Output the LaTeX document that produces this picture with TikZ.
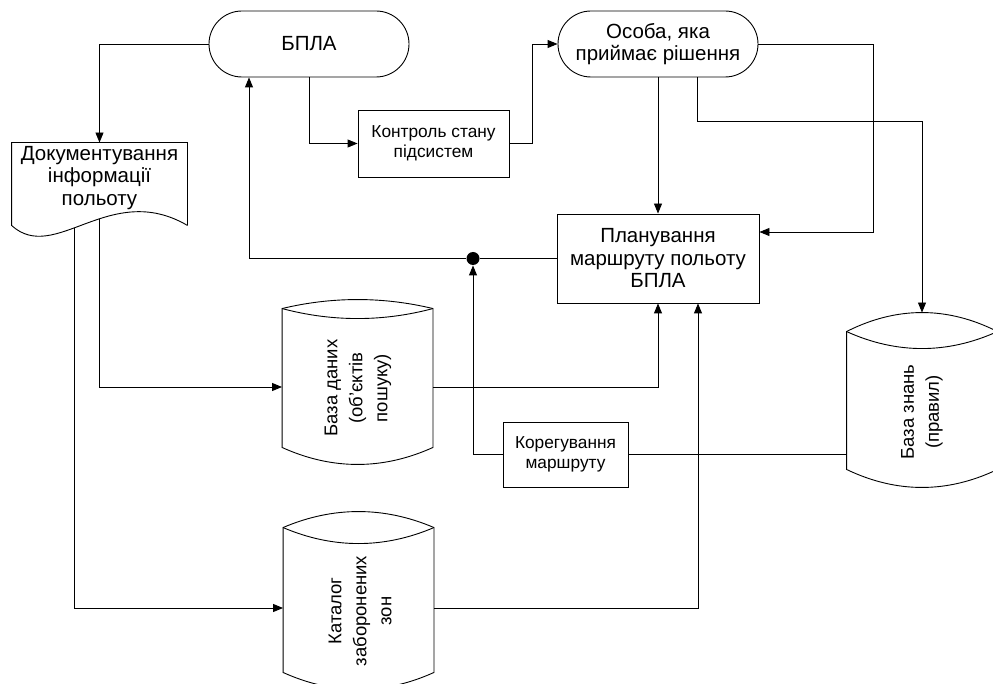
\documentclass[tikz,border=0pt]{standalone}
\usepackage{fontspec}
\setmainfont{Liberation Sans}
\usetikzlibrary{arrows.meta,shapes.misc,calc,intersections}

% outline of a stored-data cylinder around a body node:
% #1 node, #2 upper lens bulge, #3 lower lens bulge, #4 bottom bulge
\newcommand\cylpath[4]{%
  \draw (#1.north west) .. controls +(50,-#2*4/3) and +(-50,-#2*4/3) .. (#1.north east)
    -- (#1.south east) .. controls +(-50,#4*4/3) and +(50,#4*4/3) .. (#1.south west) -- cycle;
  \draw (#1.north west) .. controls +(50,#3*4/3) and +(-50,#3*4/3) .. (#1.north east);
}

\begin{document}
\begin{tikzpicture}[x=1pt,y=-1pt,
  line width=0.9pt,
  arr/.style={-{Triangle[length=10pt,width=8pt]}},
  big/.style={font=\fontsize{20.5}{22.5}\selectfont},
  small/.style={font=\fontsize{17.3}{19.5}\selectfont},
  term/.style={draw, rounded rectangle, minimum width=200pt, minimum height=66pt,
    inner sep=0pt, align=center, big},
  proc/.style={draw, rectangle, inner sep=0pt, align=center},
  body/.style={rectangle, inner sep=0pt, minimum width=150pt},
  vtext/.style={rotate=90, align=center, font=\fontsize{18.5}{25}\selectfont},
]
\useasboundingbox (0,0) rectangle (993,684);
\fill[white] (0,0) rectangle (993,684);
\clip (0,0) rectangle (993,684);

% terminators and process boxes
\node[term] (bpla) at (309,44) {БПЛА};
\node[term] (osoba) at (658,44) {Особа, яка\\приймає рішення};
\node[proc, small, minimum width=151pt, minimum height=67pt] (kontrol) at (433.5,143.5) {Контроль стану\\підсистем};
\node[proc, big, minimum width=202pt, minimum height=89pt] (plan) at (658,258.5) {Планування\\маршруту польоту\\БПЛА};
\node[proc, small, minimum width=125pt, minimum height=65pt] (koreg) at (565.5,454.5) {Корегування\\маршруту};

% document shape
\node[body, minimum width=175pt, minimum height=82pt] (doc) at (99.5,184) {};
\draw[name path=docedge] (doc.south east) -- (doc.north east) -- (doc.north west) -- (doc.south west)
  .. controls (55,265) and (110,180) .. (doc.south east);
\node[big, align=center] (doctext) at (99.5,178) {Документування\\інформації\\польоту};

% cylinders
\node[body, minimum height=138pt] (db) at (357.5,378) {};
\cylpath{db}{9}{10}{17}
\node[vtext] (dbtext) at (358,388) {База даних\\(об'єктів\\пошуку)};

\node[body, minimum height=144pt] (kat) at (358.5,600) {};
\cylpath{kat}{16}{16}{17}
\node[vtext] (kattext) at (360,611) {Каталог\\заборонених\\зон};

\node[body, minimum height=137pt] (kz) at (922,400.5) {};
\cylpath{kz}{19}{17}{18}
\node[vtext] (kztext) at (922,412) {База знань\\(правил)};
\coordinate (kztop) at ($(kz.north)+(0,-19)$);

% junction
\node[circle, fill, minimum size=13pt, inner sep=0pt] (jn) at (473,258.5) {};

% connectors
\draw[arr] (bpla.west) -| (doc.north);
\draw[arr] (bpla.south) |- (kontrol.west);
\draw[arr] (kontrol.east) -- ++(23,0) |- (osoba.west);
\draw[arr] (osoba.south) -- (plan.north);
\coordinate (planin) at ($(plan.east)+(0,-26.5)$);
\draw[arr] (osoba.east) -| ($(planin)+(114,0)$) -- (planin);
\draw[arr] ($(osoba.south)+(39,0)$) -- ++(0,44) -| (kztop);
\draw[arr] (plan.west) -- (jn) -| ($(bpla.south)+(-60,0)$);
\draw[arr] (koreg.west) -| (jn.south);
\draw (koreg.east) -- (koreg.east -| kz.west);

\path[name path=v1] (99,200) -- (99,300);
\path[name path=v2] (74,200) -- (74,300);
\path[name intersections={of=docedge and v1, by=d1}];
\path[name intersections={of=docedge and v2, by=d2}];
\draw[arr] (d1) |- ($(db.west)+(0,9)$);
\draw[arr] (d2) |- ($(kat.west)+(0,8)$);
\draw[arr] ($(db.east)+(0,9)$) -| (plan.south);
\draw[arr] ($(kat.east)+(0,8)$) -| ($(plan.south)+(40,0)$);
\end{tikzpicture}
\end{document}
